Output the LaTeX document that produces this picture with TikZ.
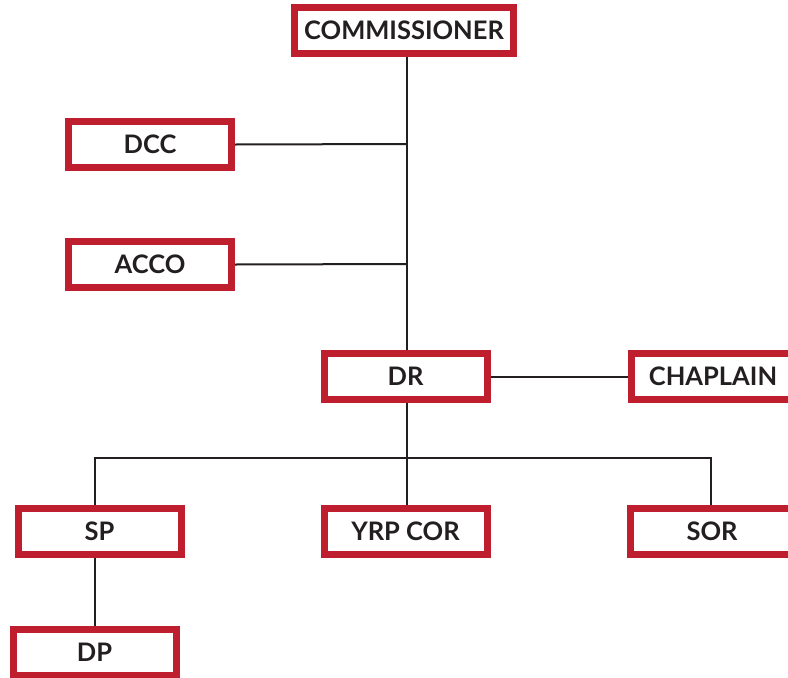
\documentclass[tikz,border=0pt]{standalone}
\usepackage{fontspec}
\setmainfont{Lato}
\definecolor{boxred}{RGB}{190,30,45}
\definecolor{ink}{RGB}{35,31,32}
\begin{document}
\begin{tikzpicture}[x=1pt,y=-1pt,
  orgbox/.style={draw=boxred,line width=7pt,fill=white,minimum width=163pt,minimum height=46pt,inner sep=0pt,
    font=\fontsize{25.5}{27}\selectfont\bfseries,text=ink},
  conn/.style={draw=ink,line width=2pt}]
\useasboundingbox (0,0) rectangle (788,678);
\fill[white] (0,0) rectangle (788,678);
\node[orgbox,minimum width=219pt] (comm) at (404,30.5) {COMMISSIONER};
\node[orgbox] (dcc) at (150,144.5) {DCC};
\node[orgbox] (acco) at (150,264.5) {ACCO};
\node[orgbox] (dr) at (405.5,376.5) {DR};
\node[orgbox] (chap) at (713,376.5) {CHAPLAIN};
\node[orgbox] (sp) at (99.5,531.5) {SP};
\node[orgbox] (yrp) at (405.5,531) {YRP COR};
\node[orgbox] (sor) at (712,531) {SOR};
\node[orgbox] (dp) at (94.5,652) {DP};
\coordinate (tdcc) at (407,144);
\coordinate (tacco) at (407,264);
\coordinate (busl) at (95,458);
\coordinate (busm) at (407,458);
\coordinate (busr) at (711,458);
\draw[conn] (comm.south -| busm) -- (dr.north -| busm);
\draw[conn] (dcc.east) -- (tdcc);
\draw[conn] (acco.east) -- (tacco);
\draw[conn] (dr.east) -- (chap.west);
\draw[conn] (dr.south -| busm) -- (yrp.north -| busm);
\draw[conn] (sp.north -| busl) -- (busl) -- (busr) -- (sor.north -| busr);
\draw[conn] (sp.south -| busl) -- (dp.north -| busl);
\end{tikzpicture}
\end{document}
